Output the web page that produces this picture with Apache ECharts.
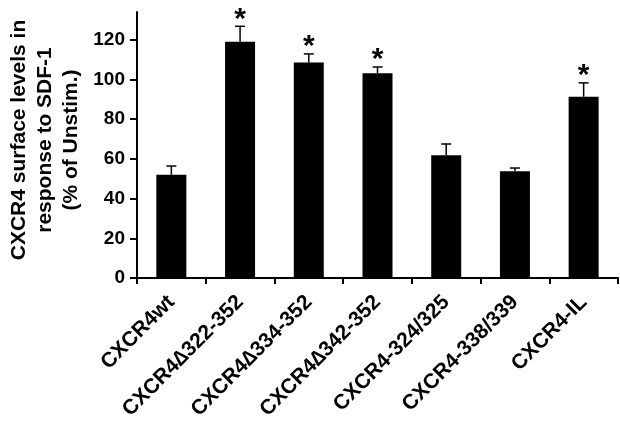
<!DOCTYPE html>
<html>
<head>
<meta charset="utf-8">
<script src="https://cdn.jsdelivr.net/npm/echarts@6/dist/echarts.min.js"></script>
<style>html,body{margin:0;padding:0;background:#fff}#c{width:620px;height:423px}</style>
</head>
<body>
<div id="c"></div>
<script>
var categories = ['CXCR4wt', 'CXCR4\u2206322-352', 'CXCR4\u2206334-352', 'CXCR4\u2206342-352', 'CXCR4-324/325', 'CXCR4-338/339', 'CXCR4-IL'];
var means = [52, 119, 108.5, 103.2, 61.8, 53.8, 91.3];
var errUpper = [56.4, 126.8, 112.9, 106.3, 67.5, 55.4, 98.3];
var significant = [false, true, true, true, false, false, true];
var yTicks = [0, 20, 40, 60, 80, 100, 120];

var FONT = 'Liberation Sans, Arial, sans-serif';
var chart = echarts.init(document.getElementById('c'), null, {renderer: 'canvas'});

var errData = categories.map(function (c, i) { return [i, means[i], errUpper[i], significant[i] ? 1 : 0]; });

chart.setOption({
  animation: false,
  backgroundColor: '#fff',
  grid: {left: 137, right: 2, top: 12, bottom: 145, containLabel: false, outerBoundsMode: 'none'},
  xAxis: {
    type: 'category',
    data: categories,
    boundaryGap: true,
    axisLine: {lineStyle: {color: '#000', width: 2}},
    axisTick: {show: true, length: 6, inside: false, lineStyle: {color: '#000', width: 2}},
    axisLabel: {rotate: 45, interval: 0, margin: 21, color: '#000', fontFamily: FONT, fontWeight: 'bold', fontSize: 21}
  },
  yAxis: {
    type: 'value',
    min: 0, max: 134, interval: 20,
    name: 'CXCR4 surface levels in\nresponse to SDF-1\n(% of Unstim.)',
    nameLocation: 'middle',
    nameGap: 53,
    nameMoveOverlap: false,
    nameTextStyle: {color: '#000', fontFamily: FONT, fontWeight: 'bold', fontSize: 21, lineHeight: 26, align: 'center', padding: [0, 0, 0, 10]},
    splitLine: {show: false},
    axisLine: {show: true, lineStyle: {color: '#000', width: 2}},
    axisTick: {show: true, length: 7, customValues: yTicks, lineStyle: {color: '#000', width: 2}},
    axisLabel: {customValues: yTicks, margin: 12, color: '#000', fontFamily: FONT, fontWeight: 'bold', fontSize: 19}
  },
  series: [
    {
      type: 'bar',
      data: means,
      barWidth: 30,
      itemStyle: {color: '#000'},
      z: 2
    },
    {
      type: 'custom',
      data: errData,
      z: 3,
      renderItem: function (params, api) {
        var x = api.value(0);
        var base = api.coord([x, api.value(1)]);
        var top = api.coord([x, api.value(2)]);
        var capHalf = 5;
        var children = [
          {type: 'line', shape: {x1: base[0], y1: base[1], x2: top[0], y2: top[1]}, style: {stroke: '#000', lineWidth: 1.5}},
          {type: 'line', shape: {x1: top[0] - capHalf, y1: top[1], x2: top[0] + capHalf, y2: top[1]}, style: {stroke: '#000', lineWidth: 1.5}}
        ];
        if (api.value(3) === 1) {
          children.push({type: 'text', x: top[0], y: top[1] + 8, style: {text: '*', fill: '#000', font: 'bold 30px ' + FONT, align: 'center', verticalAlign: 'bottom'}});
        }
        return {type: 'group', children: children};
      }
    }
  ]
});
</script>
</body>
</html>
